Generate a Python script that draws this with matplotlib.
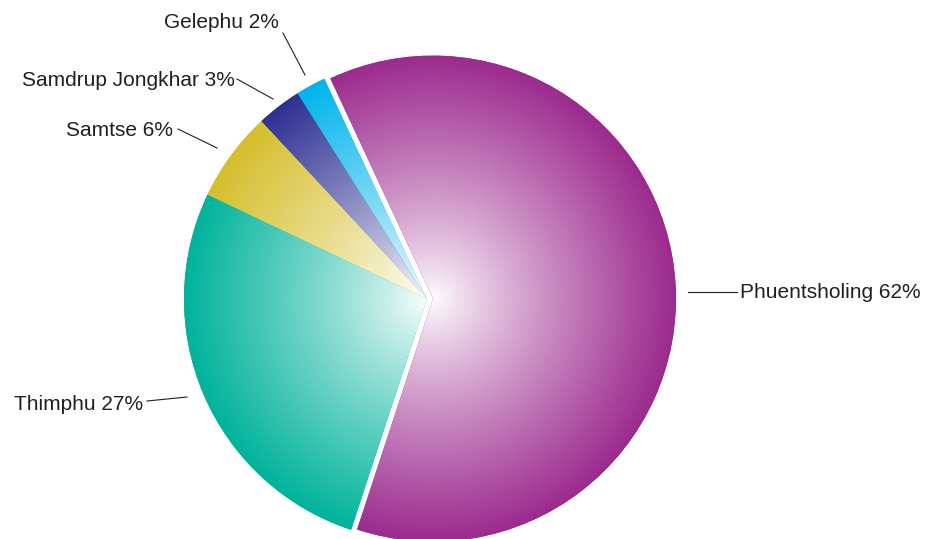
import numpy as np
import matplotlib.pyplot as plt
from matplotlib.colors import to_rgb

regions = ["Gelephu", "Samdrup Jongkhar", "Samtse", "Thimphu", "Phuentsholing"]
shares = [2, 3, 6, 27, 62]
colors = ["#00B4EC", "#2E3192", "#D5BF2C", "#00B39B", "#9C2A8E"]
explode = [0, 0, 0, 0, 6]

# label text anchor and leader line ends (pixel coords, y down)
label_pos = [(279, 22, "right"), (235, 81, "right"), (173, 130, "right"),
             (143, 405, "right"), (740, 292, "left")]
leaders = [((283, 33), (305, 75)), ((237, 79), (273, 99)), ((178, 129), (217, 148)),
           ((147, 401), (187, 397)), ((737, 292), (688, 292))]

W, H = 925, 539
plt.rcParams["font.family"] = ["Liberation Sans", "DejaVu Sans"]
fig = plt.figure(figsize=(W / 100, H / 100), dpi=100, facecolor="white")
ax = fig.add_axes([0, 0, 1, 1])

center = (427, H - 299)
radius = 243
wedges, _ = ax.pie(shares, colors=colors, startangle=115, counterclock=True,
                   radius=radius, center=center, explode=explode,
                   wedgeprops=dict(linewidth=0))

# radial gradient: white at the apex, full colour at the rim
yy, xx = np.mgrid[0:H, 0:W] + 0.5
for wedge, color in zip(wedges, colors):
    cx, cy = wedge.center
    t = np.clip(np.hypot(xx - cx, yy - cy) / wedge.r, 0, 1) ** 0.85
    rgb = np.array(to_rgb(color))
    img = np.ones((H, W, 4))
    img[..., :3] = 1 - t[..., None] * (1 - rgb)
    im = ax.imshow(img, extent=(0, W, 0, H), origin="lower", zorder=wedge.get_zorder() + 0.1,
                   interpolation="bilinear")
    im.set_clip_path(wedge)

for name, share, (tx, ty, ha), ((x0, y0), (x1, y1)) in zip(regions, shares, label_pos, leaders):
    ax.plot([x0, x1], [H - y0, H - y1], color="#231F20", lw=0.8, zorder=5)
    ax.text(tx, H - ty, f"{name} {share}%", ha=ha, va="center", fontsize=15, color="#231F20")

ax.set_xlim(0, W)
ax.set_ylim(0, H)
ax.set_aspect("equal")
ax.axis("off")
fig.savefig("out.png", dpi=100, facecolor="white")
